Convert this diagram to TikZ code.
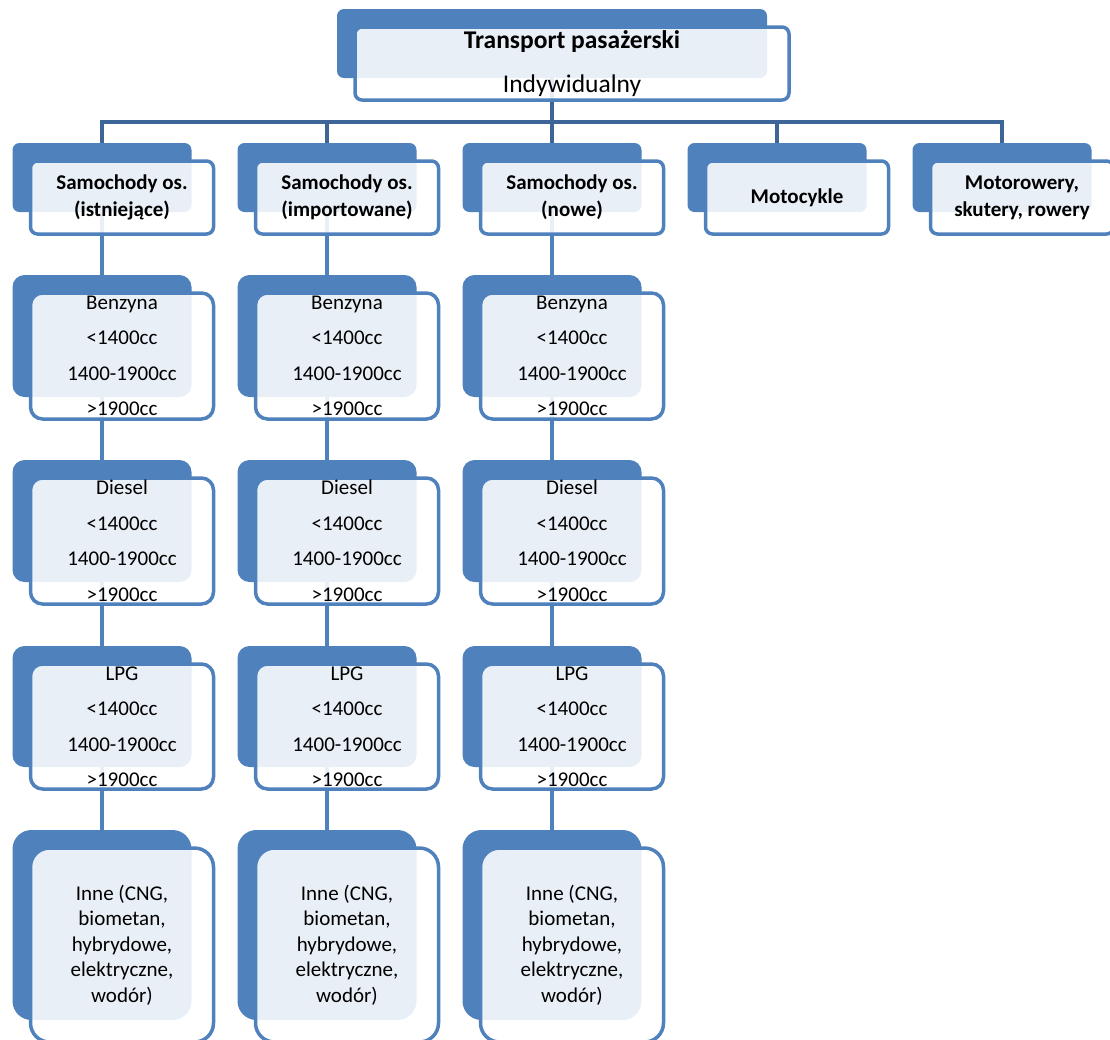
\documentclass[tikz,border=0pt]{standalone}
\usepackage{fontspec}
\setmainfont{Carlito}
\pgfdeclarelayer{bg}
\pgfsetlayers{bg,main}
\definecolor{smblue}{HTML}{4F81BD}
\definecolor{busblue}{HTML}{3D6597}
\newcommand\hdfont{\bfseries\fontsize{21}{27}\selectfont}
\newcommand\lvfont{\fontsize{21}{35.5}\selectfont}
\newcommand\infont{\fontsize{21}{25.5}\selectfont}
\newcommand\topfont{\fontsize{25.5}{44}\selectfont}
% back tile + translucent outlined front tile
% #1 name, #2 x, #3 y, #4 width, #5 height, #6 corner radius, #7 font, #8 text
\newcommand\duo[8]{%
  \node[backbox, minimum width={#4*1pt}, minimum height={#5*1pt}, rounded corners=#6pt] (#1b) at (#2,#3) {};
  \node[frontbox, minimum width={(#4+4)*1pt}, minimum height={(#5+4)*1pt}, rounded corners=#6pt, font=#7] (#1f) at ({#2+18},{#3+18}) {#8};
}
\tikzset{
  backbox/.style={fill=smblue, draw=none, anchor=north west, inner sep=0pt, outer sep=0pt},
  frontbox/.style={draw=smblue, line width=3.5pt, fill=white, fill opacity=0.88, text opacity=1,
    anchor=north west, inner sep=0pt, outer sep=0pt, align=center, text=black},
  bus/.style={draw=busblue, line width=4pt},
  link/.style={draw=smblue, line width=4pt},
}
\begin{document}
\begin{tikzpicture}[x=1pt,y=-1pt]
\useasboundingbox (0,0) rectangle (1110,1039);
\begin{pgfonlayer}{bg}
  \fill[white] (0,0) rectangle (1110,1039);
\end{pgfonlayer}

% root
\duo{top}{337}{9}{430}{69}{7}{\topfont}{\textbf{Transport pasażerski}\\Indywidualny}

% first level
\duo{n11}{12.5}{143}{179}{69}{7}{\hdfont}{Samochody os.\\(istniejące)}
\duo{n21}{237.5}{143}{179}{69}{7}{\hdfont}{Samochody os.\\(importowane)}
\duo{n31}{462.5}{143}{179}{69}{7}{\hdfont}{Samochody os.\\(nowe)}
\duo{n41}{687.5}{143}{179}{69}{7}{\hdfont}{Motocykle}
\duo{n51}{912.5}{143}{179}{69}{7}{\hdfont}{Motorowery,\\skutery, rowery}

% fuel branches of the three car columns
\foreach \i/\x in {1/12.5, 2/237.5, 3/462.5} {
  \duo{n\i2}{\x}{275}{179}{122}{12}{\lvfont}{Benzyna\\<1400cc\\1400-1900cc\\>1900cc}
  \duo{n\i3}{\x}{460}{179}{122}{12}{\lvfont}{Diesel\\<1400cc\\1400-1900cc\\>1900cc}
  \duo{n\i4}{\x}{646}{179}{121}{12}{\lvfont}{LPG\\<1400cc\\1400-1900cc\\>1900cc}
  \duo{n\i5}{\x}{830}{179}{190}{19}{\infont}{Inne (CNG,\\biometan,\\hybrydowe,\\elektryczne,\\wodór)}
}

% connectors behind the tiles
\begin{pgfonlayer}{bg}
  \coordinate (hub) at (552,121.5);
  \draw[bus] (topb.center) -- (hub);
  \foreach \i in {1,...,5} \draw[bus] (hub) -| (n\i1b.north);
  \foreach \i in {1,2,3}
    \draw[link] (n\i1b.center) -- (n\i2b.center) -- (n\i3b.center) -- (n\i4b.center) -- (n\i5b.center);
\end{pgfonlayer}
\end{tikzpicture}
\end{document}
